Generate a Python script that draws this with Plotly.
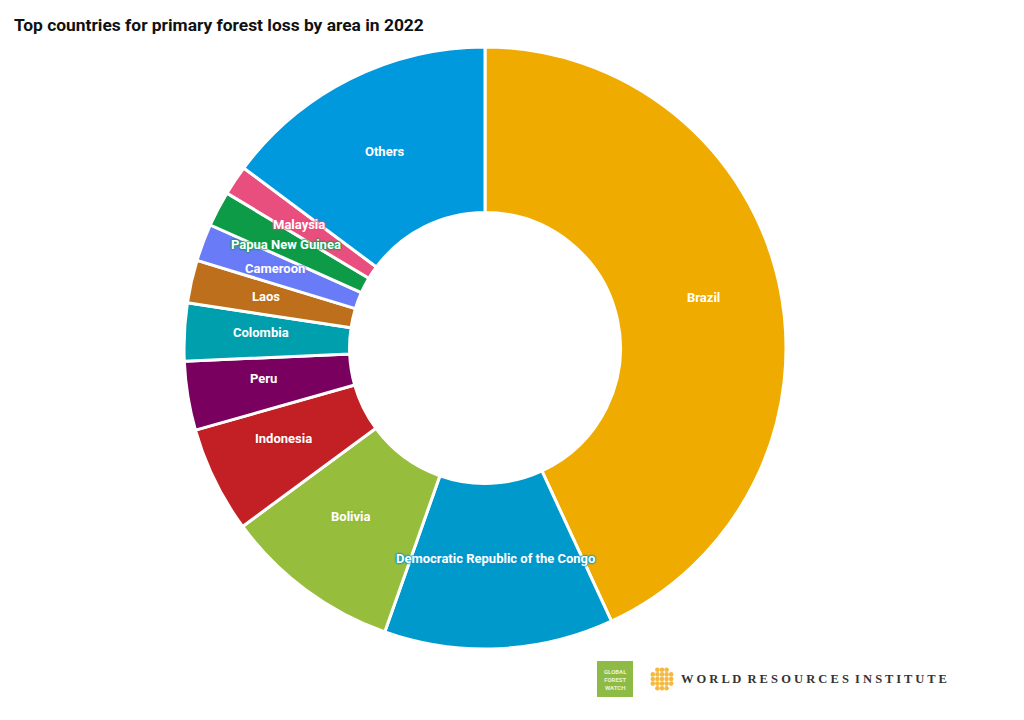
import math
import plotly.graph_objects as go

countries = ['Brazil', 'Democratic Republic of the Congo', 'Bolivia', 'Indonesia', 'Peru', 'Colombia',
             'Laos', 'Cameroon', 'Papua New Guinea', 'Malaysia', 'Others']
shares = [43.1, 12.3, 9.5, 5.7, 3.7, 3.1, 2.3, 2.0, 1.9, 1.6, 14.8]
colors = ['#F0AB00', '#0099CC', '#97BD3D', '#C32025', '#7A0060', '#009FAE',
          '#BE6F1B', '#6A7BF7', '#0E9B48', '#E94F7E', '#0099DE']

W, H = 1024, 720
PAGE_MARGIN = 8  # the page body pushes the plot in by this much
CX, CY, R = 485, 348, 301
LABEL_FONT = 'Roboto, sans-serif'


def px_x(x):
    return (x - PAGE_MARGIN) / W


def px_y(y):
    return 1 - (y - PAGE_MARGIN) / H


fig = go.Figure(go.Pie(
    labels=countries,
    values=shares,
    hole=0.45,
    sort=False,
    direction='clockwise',
    rotation=0,
    textinfo='none',
    showlegend=False,
    marker=dict(colors=colors, line=dict(color='white', width=3)),
    domain=dict(x=[px_x(CX - R), px_x(CX + R)], y=[px_y(CY + R), px_y(CY - R)]),
))

annotations = []
shapes = []

# slice labels sit mid ring, worked out from the shares
running = 0
total = sum(shares)
for name, share, color in zip(countries, shares, colors):
    angle = 2 * math.pi * (running + share / 2) / total
    running += share
    glow = ', '.join([f'0 0 2px {color}'] * 4)
    annotations.append(dict(
        x=px_x(CX + 0.745 * R * math.sin(angle)),
        y=px_y(CY - 4 - 0.715 * R * math.cos(angle)),
        xref='paper', yref='paper', xanchor='center', yanchor='middle', showarrow=False,
        text=f'<b>{name}</b>',
        font=dict(family=LABEL_FONT, size=13, color='white', shadow=glow),
    ))

annotations.append(dict(
    x=px_x(12), y=px_y(25), xref='paper', yref='paper', xanchor='left', yanchor='middle', showarrow=False,
    text='<b>Top countries for primary forest loss by area in 2022</b>',
    font=dict(family=LABEL_FONT, size=17.4, color='#111111'),
))

# logos in the bottom right corner
shapes.append(dict(type='rect', xref='paper', yref='paper', x0=px_x(597), x1=px_x(633),
                   y0=px_y(697), y1=px_y(661), fillcolor='#8DBB45', line_width=0))
annotations.append(dict(
    x=px_x(615), y=px_y(679), xref='paper', yref='paper', xanchor='center', yanchor='middle', showarrow=False,
    text='<b>GLOBAL<br>FOREST<br>WATCH</b>',
    font=dict(family=LABEL_FONT, size=6, color='#E8F2D5'),
))
for row in range(-2, 3):
    for col in range(-2, 3):
        if abs(row) + abs(col) > 3:
            continue
        mx, my = 662 + col * 4.6, 679 + row * 4.6
        shapes.append(dict(type='circle', xref='paper', yref='paper',
                           x0=px_x(mx - 2.3), x1=px_x(mx + 2.3), y0=px_y(my + 2.3), y1=px_y(my - 2.3),
                           fillcolor='#F5B942', line_width=0))
annotations.append(dict(
    x=px_x(679), y=px_y(679), xref='paper', yref='paper', xanchor='left', yanchor='middle', showarrow=False,
    text='<b>W O R L D  R E S O U R C E S  I N S T I T U T E</b>',
    font=dict(family='Liberation Serif, serif', size=12.5, color='#333333'),
))

fig.update_layout(
    width=W, height=H,
    margin=dict(l=0, r=0, t=0, b=0),
    paper_bgcolor='white',
    annotations=annotations,
    shapes=shapes,
)

fig.write_html('out.html')
